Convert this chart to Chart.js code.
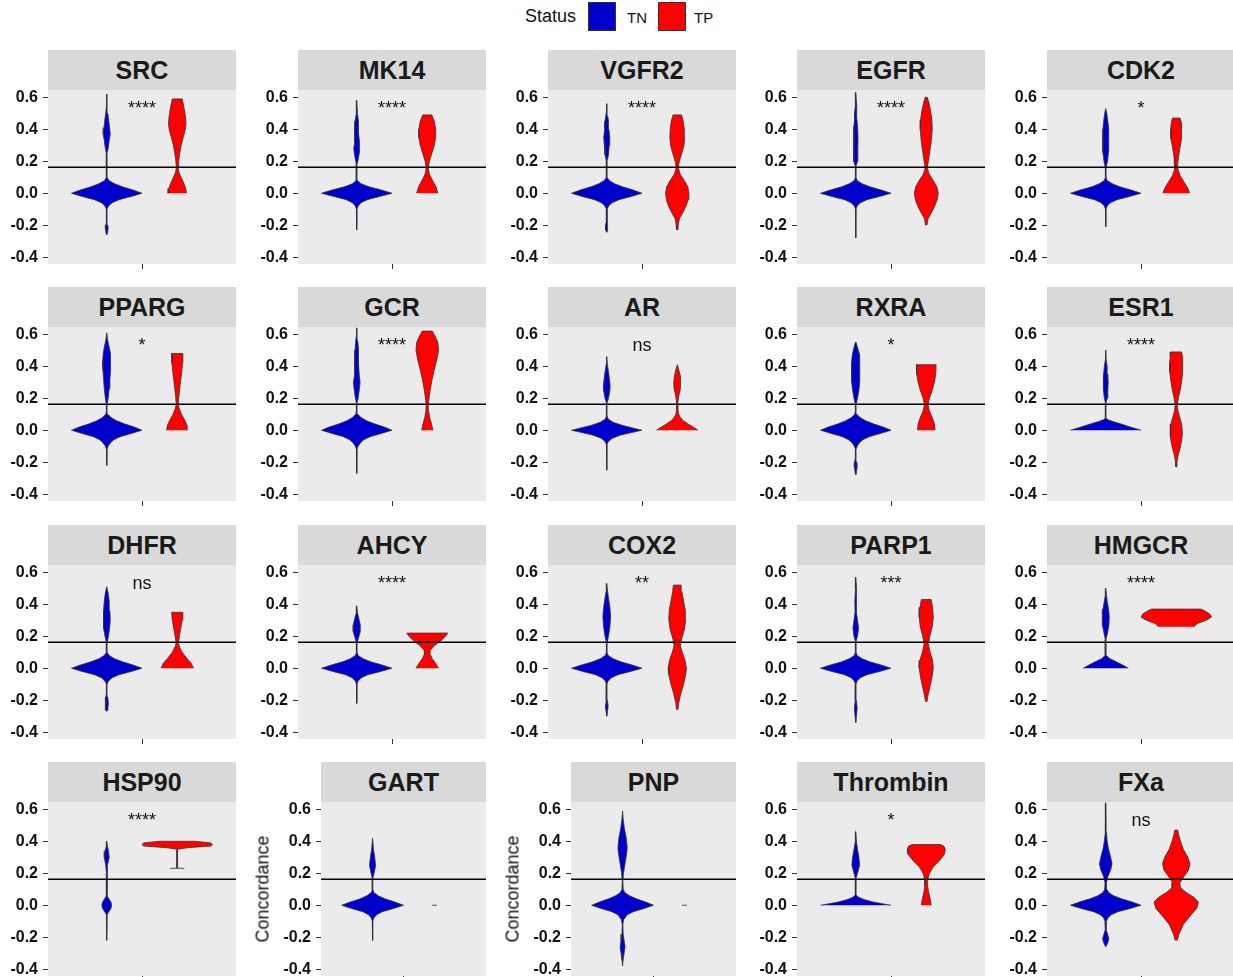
<!DOCTYPE html>
<html><head><meta charset="utf-8">
<script src="https://cdn.jsdelivr.net/npm/chart.js@4.4.0/dist/chart.umd.min.js"></script>
<style>
html,body{margin:0;padding:0;background:#fff;overflow:hidden;width:1233px;height:977px;}
body{position:relative;font-family:"Liberation Sans",Arial,sans-serif;}
canvas{position:absolute;}
.strip{position:absolute;background:#D9D9D9;color:#1A1A1A;font-weight:bold;font-size:25px;display:flex;align-items:center;justify-content:center;}
.ylab{position:absolute;font-size:18px;color:#111;white-space:nowrap;transform:translate(-50%,-50%) rotate(-90deg);}
.lg{position:absolute;color:#111;white-space:nowrap;}
.lbox{position:absolute;box-sizing:border-box;border:1px solid #333;width:28px;height:29px;top:2px;}
</style>
</head><body>
<div class="lg" style="left:525px;top:6px;font-size:18px;">Status</div>
<div class="lbox" style="left:588px;background:#0000CD;"></div>
<div class="lg" style="left:627px;top:9px;font-size:15px;">TN</div>
<div class="lbox" style="left:658px;background:#FF0000;"></div>
<div class="lg" style="left:694px;top:9px;font-size:15px;">TP</div>
<script>
// ---------- data ----------
const panelNames = ["SRC","MK14","VGFR2","EGFR","CDK2",
                    "PPARG","GCR","AR","RXRA","ESR1",
                    "DHFR","AHCY","COX2","PARP1","HMGCR",
                    "HSP90","GART","PNP","Thrombin","FXa"];
const sigLabels = ["****","****","****","****","*",
                   "*","****","ns","*","****",
                   "ns","****","**","***","****",
                   "****","","","*","ns"];
const yTicks = [-0.4,-0.2,0.0,0.2,0.4,0.6];
const cutoff = 0.162;
const statusNames = ["TN","TP"];
const statusColors = ["#0000CD","#FF0000"];

// violin outlines: [concordance, relative half-width]
const SRC_TN = [[-0.26,0],[-0.25,0.02],[-0.22,0.04],[-0.2,0.03],[-0.18,0.008],[-0.1,0.01],[-0.08,0.05],[-0.06,0.15],[-0.04,0.35],[-0.02,0.7],[0,1],[0.02,0.75],[0.04,0.45],[0.06,0.22],[0.08,0.06],[0.1,0.01],[0.25,0.01],[0.28,0.04],[0.33,0.07],[0.37,0.1],[0.41,0.08],[0.45,0.06],[0.5,0.03],[0.55,0.01],[0.62,0]];
const SRC_TP = [[0,0.26],[0.03,0.24],[0.06,0.19],[0.1,0.11],[0.13,0.05],[0.16,0.025],[0.2,0.04],[0.25,0.07],[0.3,0.11],[0.35,0.17],[0.4,0.23],[0.44,0.25],[0.5,0.22],[0.55,0.18],[0.59,0.14]];
const MK14_TN = [[-0.23,0],[-0.2,0.008],[-0.1,0.008],[-0.08,0.04],[-0.06,0.12],[-0.04,0.3],[-0.02,0.65],[0,1],[0.02,0.7],[0.04,0.35],[0.06,0.12],[0.08,0.02],[0.1,0.008],[0.18,0.008],[0.21,0.04],[0.25,0.07],[0.28,0.085],[0.32,0.07],[0.38,0.05],[0.45,0.05],[0.5,0.02],[0.58,0]];
const MK14_TP = [[0,0.3],[0.04,0.25],[0.08,0.15],[0.12,0.06],[0.16,0.03],[0.2,0.06],[0.25,0.13],[0.3,0.2],[0.35,0.24],[0.4,0.24],[0.45,0.2],[0.49,0.13]];
const VGFR2_TN = [[-0.245,0],[-0.23,0.035],[-0.2,0.035],[-0.17,0.01],[-0.1,0.01],[-0.08,0.05],[-0.06,0.15],[-0.04,0.35],[-0.02,0.7],[0,1],[0.02,0.75],[0.04,0.45],[0.06,0.22],[0.08,0.07],[0.1,0.01],[0.2,0.01],[0.24,0.05],[0.3,0.07],[0.35,0.085],[0.4,0.06],[0.45,0.05],[0.48,0.03],[0.52,0.01],[0.56,0]];
const VGFR2_TP = [[-0.23,0.02],[-0.2,0.03],[-0.16,0.06],[-0.12,0.16],[-0.08,0.25],[-0.04,0.31],[0,0.33],[0.04,0.3],[0.08,0.2],[0.12,0.08],[0.16,0.03],[0.2,0.06],[0.25,0.13],[0.3,0.19],[0.35,0.21],[0.4,0.2],[0.45,0.17],[0.49,0.12]];
const EGFR_TN = [[-0.28,0],[-0.1,0.008],[-0.08,0.04],[-0.06,0.13],[-0.04,0.32],[-0.02,0.68],[0,1],[0.02,0.72],[0.04,0.4],[0.06,0.18],[0.08,0.04],[0.1,0.008],[0.17,0.01],[0.2,0.05],[0.27,0.06],[0.35,0.065],[0.42,0.05],[0.47,0.03],[0.5,0.035],[0.55,0.02],[0.63,0]];
const EGFR_TP = [[-0.2,0.02],[-0.16,0.05],[-0.12,0.15],[-0.08,0.24],[-0.04,0.31],[0,0.34],[0.04,0.3],[0.08,0.2],[0.12,0.08],[0.16,0.03],[0.2,0.06],[0.26,0.1],[0.32,0.14],[0.4,0.17],[0.46,0.16],[0.52,0.12],[0.57,0.07],[0.6,0.03]];
const CDK2_TN = [[-0.21,0],[-0.1,0.008],[-0.08,0.04],[-0.06,0.13],[-0.04,0.32],[-0.02,0.68],[0,1],[0.02,0.72],[0.04,0.4],[0.06,0.18],[0.08,0.04],[0.1,0.008],[0.16,0.01],[0.2,0.05],[0.26,0.08],[0.33,0.09],[0.4,0.08],[0.45,0.06],[0.5,0.03],[0.53,0]];
const CDK2_TP = [[0,0.38],[0.03,0.33],[0.07,0.22],[0.11,0.11],[0.15,0.05],[0.18,0.04],[0.22,0.06],[0.28,0.1],[0.34,0.15],[0.4,0.16],[0.44,0.14],[0.47,0.11]];
const PPARG_TN = [[-0.22,0],[-0.12,0.008],[-0.1,0.04],[-0.08,0.1],[-0.06,0.2],[-0.04,0.38],[-0.02,0.7],[0,1],[0.02,0.78],[0.04,0.5],[0.06,0.28],[0.08,0.12],[0.1,0.03],[0.12,0.008],[0.16,0.008],[0.2,0.04],[0.26,0.07],[0.32,0.09],[0.38,0.11],[0.43,0.115],[0.48,0.1],[0.52,0.07],[0.56,0.03],[0.61,0]];
const PPARG_TP = [[0,0.3],[0.03,0.28],[0.06,0.22],[0.1,0.12],[0.14,0.05],[0.17,0.03],[0.22,0.05],[0.28,0.08],[0.35,0.12],[0.42,0.15],[0.48,0.16]];
const GCR_TN = [[-0.27,0],[-0.12,0.008],[-0.1,0.04],[-0.08,0.1],[-0.06,0.2],[-0.04,0.38],[-0.02,0.7],[0,1],[0.02,0.78],[0.04,0.5],[0.06,0.28],[0.08,0.12],[0.1,0.03],[0.12,0.008],[0.17,0.008],[0.2,0.04],[0.25,0.07],[0.3,0.095],[0.35,0.07],[0.42,0.05],[0.5,0.05],[0.56,0.03],[0.6,0.01],[0.64,0]];
const GCR_TP = [[0,0.16],[0.04,0.12],[0.08,0.07],[0.12,0.04],[0.16,0.03],[0.2,0.05],[0.26,0.09],[0.32,0.14],[0.38,0.2],[0.44,0.27],[0.5,0.32],[0.55,0.3],[0.59,0.22],[0.62,0.14]];
const AR_TN = [[-0.25,0],[-0.09,0.008],[-0.07,0.05],[-0.05,0.16],[-0.03,0.4],[-0.01,0.8],[0,1],[0.01,0.82],[0.03,0.45],[0.05,0.18],[0.07,0.04],[0.09,0.008],[0.17,0.008],[0.2,0.05],[0.25,0.09],[0.28,0.095],[0.33,0.07],[0.38,0.04],[0.42,0.015],[0.46,0]];
const AR_TP = [[0,0.59],[0.02,0.45],[0.04,0.3],[0.06,0.17],[0.08,0.09],[0.1,0.04],[0.13,0.02],[0.18,0.02],[0.22,0.05],[0.26,0.09],[0.3,0.1],[0.34,0.08],[0.38,0.04],[0.41,0.005]];
const RXRA_TN = [[-0.28,0],[-0.26,0.02],[-0.23,0.04],[-0.2,0.035],[-0.17,0.008],[-0.12,0.008],[-0.1,0.04],[-0.08,0.1],[-0.06,0.2],[-0.04,0.38],[-0.02,0.7],[0,1],[0.02,0.78],[0.04,0.5],[0.06,0.28],[0.08,0.12],[0.1,0.03],[0.12,0.008],[0.16,0.008],[0.2,0.05],[0.25,0.09],[0.3,0.11],[0.35,0.12],[0.42,0.12],[0.47,0.1],[0.51,0.06],[0.55,0.01]];
const RXRA_TP = [[0,0.25],[0.04,0.23],[0.08,0.17],[0.12,0.09],[0.16,0.05],[0.2,0.09],[0.25,0.17],[0.3,0.23],[0.35,0.27],[0.41,0.28]];
const ESR1_TN = [[0,1],[0.02,0.7],[0.04,0.42],[0.055,0.2],[0.065,0.07],[0.075,0.01],[0.17,0.008],[0.2,0.04],[0.25,0.06],[0.3,0.07],[0.35,0.06],[0.4,0.04],[0.45,0.01],[0.5,0]];
const ESR1_TP = [[-0.23,0.01],[-0.2,0.02],[-0.16,0.05],[-0.12,0.1],[-0.08,0.14],[-0.04,0.165],[0,0.17],[0.04,0.15],[0.08,0.1],[0.12,0.05],[0.16,0.03],[0.2,0.06],[0.25,0.11],[0.3,0.15],[0.36,0.18],[0.42,0.19],[0.46,0.17],[0.49,0.15]];
const DHFR_TN = [[-0.27,0],[-0.26,0.03],[-0.22,0.045],[-0.18,0.03],[-0.16,0.008],[-0.1,0.008],[-0.08,0.05],[-0.06,0.15],[-0.04,0.35],[-0.02,0.7],[0,1],[0.02,0.75],[0.04,0.45],[0.06,0.22],[0.08,0.07],[0.1,0.01],[0.16,0.01],[0.2,0.05],[0.25,0.08],[0.3,0.1],[0.36,0.09],[0.42,0.07],[0.47,0.04],[0.51,0]];
const DHFR_TP = [[0,0.46],[0.03,0.4],[0.06,0.28],[0.1,0.14],[0.14,0.05],[0.16,0.035],[0.2,0.06],[0.25,0.1],[0.3,0.14],[0.35,0.16]];
const AHCY_TN = [[-0.22,0],[-0.1,0.008],[-0.08,0.04],[-0.06,0.13],[-0.04,0.32],[-0.02,0.68],[0,1],[0.02,0.72],[0.04,0.4],[0.06,0.18],[0.08,0.04],[0.1,0.008],[0.16,0.01],[0.19,0.05],[0.23,0.1],[0.27,0.1],[0.31,0.06],[0.35,0.02],[0.39,0]];
const AHCY_TP = [[0,0.32],[0.03,0.24],[0.06,0.14],[0.09,0.08],[0.11,0.08],[0.14,0.2],[0.17,0.38],[0.2,0.52],[0.22,0.58]];
const COX2_TN = [[-0.3,0],[-0.27,0.02],[-0.24,0.04],[-0.2,0.02],[-0.16,0.008],[-0.1,0.008],[-0.08,0.04],[-0.06,0.13],[-0.04,0.32],[-0.02,0.68],[0,1],[0.02,0.72],[0.04,0.4],[0.06,0.18],[0.08,0.04],[0.1,0.008],[0.16,0.01],[0.2,0.05],[0.26,0.09],[0.32,0.11],[0.38,0.09],[0.44,0.05],[0.49,0.02],[0.53,0]];
const COX2_TP = [[-0.26,0.02],[-0.22,0.04],[-0.16,0.1],[-0.1,0.18],[-0.04,0.24],[0,0.26],[0.05,0.22],[0.1,0.14],[0.14,0.09],[0.18,0.12],[0.24,0.2],[0.3,0.24],[0.36,0.23],[0.42,0.18],[0.48,0.13],[0.52,0.11]];
const PARP1_TN = [[-0.34,0],[-0.3,0.02],[-0.25,0.04],[-0.2,0.02],[-0.16,0.008],[-0.1,0.008],[-0.08,0.04],[-0.06,0.13],[-0.04,0.32],[-0.02,0.68],[0,1],[0.02,0.72],[0.04,0.4],[0.06,0.18],[0.08,0.04],[0.1,0.008],[0.17,0.01],[0.2,0.05],[0.25,0.08],[0.3,0.05],[0.35,0.02],[0.42,0.025],[0.5,0.02],[0.57,0]];
const PARP1_TP = [[-0.21,0.02],[-0.17,0.05],[-0.12,0.1],[-0.06,0.16],[0,0.2],[0.05,0.18],[0.1,0.11],[0.15,0.06],[0.2,0.1],[0.26,0.17],[0.32,0.2],[0.38,0.18],[0.43,0.14]];
const HMGCR_TN = [[0,0.64],[0.02,0.48],[0.04,0.3],[0.06,0.12],[0.08,0.02],[0.1,0.008],[0.18,0.01],[0.22,0.05],[0.27,0.09],[0.32,0.1],[0.37,0.08],[0.42,0.04],[0.46,0.02],[0.5,0]];
const HMGCR_TP = [[0.26,0.5],[0.28,0.6],[0.3,0.85],[0.32,1.0],[0.34,0.95],[0.36,0.8],[0.37,0.7]];
const HSP90_TN = [[-0.22,0],[-0.15,0.008],[-0.06,0.01],[-0.04,0.06],[-0.02,0.12],[0,0.14],[0.02,0.12],[0.04,0.06],[0.06,0.01],[0.2,0.008],[0.25,0.03],[0.3,0.07],[0.34,0.05],[0.37,0.02],[0.4,0]];
const HSP90_TP = [[0.23,0.2],[0.232,0.01],[0.35,0.01],[0.36,0.3],[0.37,0.95],[0.38,1.0],[0.39,0.95],[0.4,0.5]];
const GART_TN = [[-0.22,0],[-0.1,0.008],[-0.08,0.04],[-0.06,0.13],[-0.04,0.32],[-0.02,0.68],[0,1],[0.02,0.72],[0.04,0.4],[0.06,0.18],[0.08,0.04],[0.1,0.008],[0.17,0.01],[0.2,0.05],[0.25,0.1],[0.3,0.07],[0.35,0.03],[0.42,0]];
const GART_TP = [[0,0.08]];
const PNP_TN = [[-0.38,0],[-0.34,0.02],[-0.3,0.05],[-0.26,0.08],[-0.22,0.05],[-0.18,0.02],[-0.12,0.01],[-0.09,0.04],[-0.06,0.15],[-0.04,0.35],[-0.02,0.7],[0,1],[0.02,0.75],[0.04,0.45],[0.06,0.22],[0.08,0.07],[0.1,0.02],[0.15,0.01],[0.2,0.03],[0.26,0.08],[0.32,0.13],[0.36,0.15],[0.42,0.12],[0.48,0.06],[0.54,0.02],[0.59,0]];
const PNP_TP = [[0,0.08]];
const THROMBIN_TN = [[0,1],[0.01,0.75],[0.02,0.5],[0.035,0.25],[0.05,0.08],[0.065,0.01],[0.17,0.01],[0.2,0.05],[0.25,0.11],[0.3,0.09],[0.35,0.05],[0.4,0.02],[0.46,0]];
const THROMBIN_TP = [[0,0.14],[0.04,0.11],[0.08,0.07],[0.12,0.04],[0.16,0.04],[0.2,0.09],[0.24,0.2],[0.28,0.38],[0.32,0.52],[0.35,0.54],[0.37,0.5],[0.38,0.4]];
const FXA_TN = [[-0.26,0],[-0.24,0.05],[-0.21,0.09],[-0.18,0.05],[-0.15,0.01],[-0.1,0.02],[-0.08,0.06],[-0.06,0.15],[-0.04,0.35],[-0.02,0.7],[0,1],[0.02,0.75],[0.04,0.45],[0.06,0.22],[0.08,0.08],[0.1,0.03],[0.14,0.02],[0.18,0.06],[0.22,0.14],[0.26,0.18],[0.3,0.14],[0.35,0.08],[0.4,0.04],[0.46,0.02],[0.55,0.01],[0.64,0]];
const FXA_TP = [[-0.22,0.03],[-0.18,0.08],[-0.12,0.2],[-0.06,0.42],[-0.02,0.58],[0.02,0.63],[0.05,0.5],[0.08,0.28],[0.11,0.12],[0.14,0.1],[0.18,0.22],[0.22,0.35],[0.26,0.39],[0.3,0.33],[0.35,0.2],[0.4,0.12],[0.44,0.07],[0.47,0.04]];

const tnViolins = [SRC_TN,MK14_TN,VGFR2_TN,EGFR_TN,CDK2_TN,PPARG_TN,GCR_TN,AR_TN,RXRA_TN,ESR1_TN,DHFR_TN,AHCY_TN,COX2_TN,PARP1_TN,HMGCR_TN,HSP90_TN,GART_TN,PNP_TN,THROMBIN_TN,FXA_TN];
const tpViolins = [SRC_TP,MK14_TP,VGFR2_TP,EGFR_TP,CDK2_TP,PPARG_TP,GCR_TP,AR_TP,RXRA_TP,ESR1_TP,DHFR_TP,AHCY_TP,COX2_TP,PARP1_TP,HMGCR_TP,HSP90_TP,GART_TP,PNP_TP,THROMBIN_TP,FXA_TP];
const withAxisTitle = ["GART","PNP"];

// ---------- layout ----------
const X_MIN = 0.4, X_MAX = 1.6, DODGE = [0.775, 1.225], HALF_MAX = 0.225;
const Y_MIN = -0.4427, Y_MAX = 0.6458;
const colLeft = [48, 298, 548, 797, 1047];
const PANEL_W = 188, PANEL_H = 174, ROW_STEP = 237.3, FIRST_TOP = 90;
const AXIS_W = 48, PAD_TOP = 20, XAX_H = 18;

Chart.defaults.font.family = '"Liberation Sans", Arial, sans-serif';

function outline(profile, center){
  const right = profile.map(p => ({x: center + p[1]*HALF_MAX, y: p[0]}));
  const left = profile.slice().reverse().map(p => ({x: center - p[1]*HALF_MAX, y: p[0]}));
  return right.concat(left);
}

const bgPlugin = {
  id:'panelbg',
  beforeDraw(chart){
    const a = chart.chartArea, c = chart.ctx;
    c.save(); c.fillStyle = '#EBEBEB'; c.fillRect(a.left, a.top, a.right-a.left, a.bottom-a.top); c.restore();
  }
};
const sigPlugin = {
  id:'sig',
  afterDatasetsDraw(chart){
    const lab = chart.options.plugins.sig.label;
    if(!lab) return;
    const c = chart.ctx;
    c.save();
    c.font = '18px "Liberation Sans", Arial, sans-serif';
    c.fillStyle = '#111'; c.textAlign = 'center'; c.textBaseline = 'alphabetic';
    c.fillText(lab, chart.scales.x.getPixelForValue(1), chart.scales.y.getPixelForValue(0.495));
    c.restore();
  }
};

panelNames.forEach((name, i) => {
  const r = Math.floor(i/5), col = i%5;
  const narrow = withAxisTitle.includes(name);
  const left = colLeft[col] + (narrow ? 23 : 0);
  const width = PANEL_W - (narrow ? 23 : 0);
  const top = Math.round(FIRST_TOP + r*ROW_STEP);

  const cv = document.createElement('canvas');
  cv.width = AXIS_W + width; cv.height = PAD_TOP + PANEL_H + XAX_H;
  cv.style.left = (left - AXIS_W) + 'px'; cv.style.top = (top - PAD_TOP) + 'px';
  cv.style.width = cv.width + 'px'; cv.style.height = cv.height + 'px';
  document.body.appendChild(cv);

  const strip = document.createElement('div');
  strip.className = 'strip'; strip.textContent = name;
  strip.style.left = left + 'px'; strip.style.top = (top - 40) + 'px';
  strip.style.width = width + 'px'; strip.style.height = '40px';
  document.body.appendChild(strip);

  if (narrow){
    const t = document.createElement('div');
    t.className = 'ylab'; t.textContent = 'Concordance';
    t.style.left = (left - 58) + 'px'; t.style.top = (top + PANEL_H/2) + 'px';
    document.body.appendChild(t);
  }

  const violinSets = [tnViolins[i], tpViolins[i]].map((prof, k) => ({
    label: statusNames[k], data: outline(prof, DODGE[k]), showLine: true, fill: 'shape',
    backgroundColor: statusColors[k], borderColor: '#333333', borderWidth: 0.8,
    pointRadius: 0, tension: 0, order: 1
  }));

  new Chart(cv, {
    type: 'scatter',
    data: { datasets: [
      { label:'cutoff', data:[{x:X_MIN,y:cutoff},{x:X_MAX,y:cutoff}], showLine:true, fill:false,
        borderColor:'#000', borderWidth:1.5, pointRadius:0, order:0 },
      ...violinSets
    ]},
    options: {
      responsive:false, animation:false, devicePixelRatio:1,
      layout:{padding:{top:PAD_TOP,left:0,right:0,bottom:0}},
      plugins:{legend:{display:false}, tooltip:{enabled:false}, sig:{label: sigLabels[i]}},
      scales:{
        x:{type:'linear', min:X_MIN, max:X_MAX,
           afterBuildTicks:s=>{s.ticks=[{value:1}];},
           afterFit:s=>{s.height=XAX_H;},
           ticks:{display:false},
           grid:{drawOnChartArea:false, drawTicks:true, tickLength:5, color:'#333'},
           border:{display:false}},
        y:{type:'linear', min:Y_MIN, max:Y_MAX,
           afterBuildTicks:s=>{s.ticks=yTicks.map(v=>({value:v}));},
           afterFit:s=>{s.width=AXIS_W;},
           ticks:{callback:v=>Number(v).toFixed(1), font:{size:16, weight:'bold'}, color:'#111', padding:5},
           grid:{drawOnChartArea:false, drawTicks:true, tickLength:5, color:'#333'},
           border:{display:false}}
      }
    },
    plugins:[bgPlugin, sigPlugin]
  });
});
</script>
</body></html>
